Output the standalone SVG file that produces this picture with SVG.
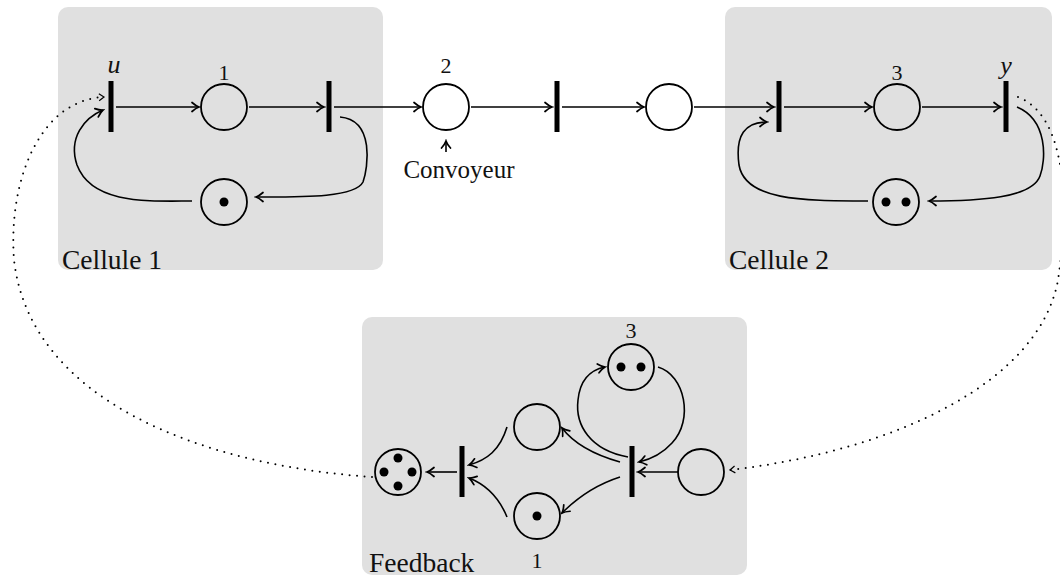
<svg xmlns="http://www.w3.org/2000/svg" width="1060" height="576" viewBox="0 0 1060 576">
<style>
.box{fill:#e0e0e0;stroke:none}
.pl{fill:none;stroke:#000;stroke-width:1.8}
.tr{fill:#000}
.tok{fill:#000}
.arc{fill:none;stroke:#000;stroke-width:1.6;marker-end:url(#ah)}
.dot{fill:none;stroke:#000;stroke-width:2;stroke-linecap:round;stroke-dasharray:0 7.5;marker-end:url(#dh)}
text{font-family:'Liberation Serif','Times New Roman',Tinos,'DejaVu Serif',serif;fill:#111}
.lbl{font-size:27.5px}
.cv{font-size:25px;text-anchor:middle}
.num{font-size:22px;text-anchor:middle}
.var{font-size:26px;font-style:italic;text-anchor:middle}
</style>
<defs>
<marker id="ah" viewBox="-10 -6 12 12" markerWidth="12" markerHeight="12" markerUnits="userSpaceOnUse" refX="0" refY="0" orient="auto">
<path d="M-7,-4.5 Q-3,-1 0,0 Q-3,1 -7,4.5" fill="none" stroke="#000" stroke-width="1.7" stroke-linecap="round"/>
</marker>
<marker id="dh" viewBox="-10 -6 12 12" markerWidth="12" markerHeight="12" markerUnits="userSpaceOnUse" refX="0" refY="0" orient="auto">
<path d="M-5,-3.5 L0,0 L-5,3.5" fill="none" stroke="#000" stroke-width="1.2"/>
</marker>
</defs>

<g id="cellule1">
<rect class="box" x="58" y="7" width="325" height="263" rx="10"/>
<text class="lbl" x="62" y="269">Cellule 1</text>
</g>
<g id="cellule2">
<rect class="box" x="725" y="7" width="327" height="263" rx="10"/>
<text class="lbl" x="729" y="269">Cellule 2</text>
</g>
<g id="feedback">
<rect class="box" x="362" y="317" width="385" height="258" rx="10"/>
<text class="lbl" x="369" y="572">Feedback</text>
</g>

<g id="t-u"><rect class="tr" x="108.5" y="81" width="5" height="51"/><text class="var" x="114" y="73">u</text></g>
<g id="p-1"><circle class="pl" cx="224" cy="107" r="23"/><text class="num" x="224" y="80">1</text></g>
<g id="t-c1"><rect class="tr" x="326.5" y="81" width="5" height="51"/></g>
<g id="p-c1r"><circle class="pl" cx="224" cy="202" r="23"/><circle class="tok" cx="224" cy="202" r="4.5"/></g>

<g id="p-2"><circle class="pl" cx="446" cy="107" r="23"/><text class="num" x="446" y="73">2</text></g>
<g id="convoyeur"><text class="cv" x="459" y="178">Convoyeur</text></g>
<g id="t-mid"><rect class="tr" x="554.5" y="81" width="5" height="51"/></g>
<g id="p-mid"><circle class="pl" cx="669" cy="107" r="23"/></g>

<g id="t-c2"><rect class="tr" x="776.5" y="81" width="5" height="51"/></g>
<g id="p-3"><circle class="pl" cx="897" cy="107" r="23"/><text class="num" x="897" y="80">3</text></g>
<g id="t-y"><rect class="tr" x="1003.5" y="81" width="5" height="51"/><text class="var" x="1006" y="74">y</text></g>
<g id="p-c2r"><circle class="pl" cx="896" cy="202" r="23"/><circle class="tok" cx="886" cy="202" r="4.5"/><circle class="tok" cx="906" cy="202" r="4.5"/></g>

<g id="p-f4"><circle class="pl" cx="398" cy="472" r="23"/><circle class="tok" cx="398" cy="458" r="4.5"/><circle class="tok" cx="384" cy="472" r="4.5"/><circle class="tok" cx="412" cy="472" r="4.5"/><circle class="tok" cx="398" cy="486" r="4.5"/></g>
<g id="t-fl"><rect class="tr" x="459.5" y="446" width="5" height="51"/></g>
<g id="p-fup"><circle class="pl" cx="537" cy="427" r="23"/></g>
<g id="p-flow"><circle class="pl" cx="537" cy="516" r="23"/><circle class="tok" cx="537" cy="516" r="4.5"/><text class="num" x="537" y="568">1</text></g>
<g id="p-ftop"><circle class="pl" cx="631" cy="367" r="23"/><circle class="tok" cx="621" cy="367" r="4.5"/><circle class="tok" cx="641" cy="367" r="4.5"/><text class="num" x="631" y="338">3</text></g>
<g id="t-fr"><rect class="tr" x="629.5" y="446" width="5" height="51"/></g>
<g id="p-fr"><circle class="pl" cx="701" cy="472" r="23"/></g>

<g id="connectors">
<path class="arc" d="M116,107 L199,107"/>
<path class="arc" d="M249,107 L324,107"/>
<path class="arc" d="M340,117 C375,120 368,168 363,182 C355,198 300,197 256,197"/>
<path class="arc" d="M192,201 C150,201 92,205 77,165 C68,138 84,118 103,110"/>
<path class="arc" d="M334,107 L421,107"/>
<path class="arc" d="M446,152 L446,141"/>
<path class="arc" d="M471,107 L552,107"/>
<path class="arc" d="M562,107 L644,107"/>
<path class="arc" d="M694,107 L774,107"/>
<path class="arc" d="M784,107 L872,107"/>
<path class="arc" d="M922,107 L1001,107"/>
<path class="arc" d="M1017,107 C1048,120 1046,160 1040,176 C1032,198 980,201 929,201"/>
<path class="arc" d="M868,201 C800,201 745,200 739,165 C735,135 745,122 767,122"/>
<path class="arc" d="M457,472 L427,472"/>
<path class="arc" d="M507,427 C500,450 487,460 469,465"/>
<path class="arc" d="M507,517 C500,500 487,485 469,478"/>
<path class="arc" d="M620,462 C595,455 575,445 562,428"/>
<path class="arc" d="M620,477 C595,485 575,500 562,513"/>
<path class="arc" d="M628,457 C590,450 575,425 578,400 C580,380 590,370 605,367"/>
<path class="arc" d="M658,367 C685,375 694,420 672,443 C662,454 652,459 639,462"/>
<path class="arc" d="M678,472 L638,472"/>
<path class="dot" d="M372,477 C200,465 30,400 14,260 C8,180 40,100 104,97"/>
<path class="dot" d="M1018,97 C1065,115 1070,200 1058,280 C1040,380 900,450 730,470"/>
</g>
</svg>
